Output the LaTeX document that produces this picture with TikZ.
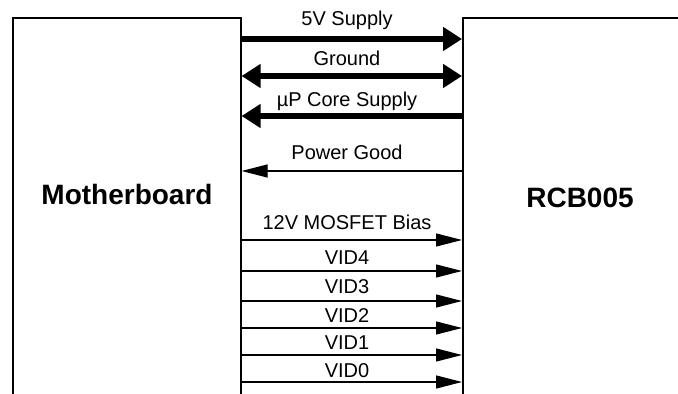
\documentclass[tikz,border=0pt]{standalone}
\usepackage{fontspec}
\setmainfont{Liberation Sans}
\usetikzlibrary{arrows.meta}
\tikzset{
  box/.style={draw, line width=0.8pt, anchor=north west, inner sep=0pt},
  ptip/.tip={Triangle[length=9.5pt,width=11.5pt]},
  stip/.tip={Triangle[length=13pt,width=6.5pt]},
  power/.style={line width=3pt},
  signal/.style={line width=0.6pt},
  lbl/.style={anchor=base, inner sep=0pt, font=\fontsize{10}{12}\selectfont},
  title/.style={font=\fontsize{14}{16}\selectfont\bfseries}
}
\begin{document}
\begin{tikzpicture}[x=0.5pt,y=-0.5pt]
	\useasboundingbox (0,0) rectangle (678,394);
	\clip (0,0) rectangle (678,394);
	% the two boards
	\node [box, minimum width=114pt, minimum height=210pt] (mb) at (12,17) {};
	\node [box, minimum width=150pt, minimum height=210pt] (rcb) at (462,17) {};
	\node [title] (mbname) at (127,194) {Motherboard};
	\node [title] (rcbname) at (580,198) {RCB005};
	% power lines
	\draw [power, -ptip] (mb.east |- 0,39) -- (rcb.west |- 0,39);
	\draw [power, ptip-ptip] (mb.east |- 0,76) -- (rcb.west |- 0,76);
	\draw [power, -ptip] (rcb.west |- 0,116) -- (mb.east |- 0,116);
	\draw [signal, -stip] (rcb.west |- 0,171) -- (mb.east |- 0,171);
	\node [lbl] (l5v) at (347,26) {5V Supply};
	\node [lbl] (lgnd) at (347,66) {Ground};
	\node [lbl] (lcore) at (347,107) {µP Core Supply};
	\node [lbl] (lpg) at (347,160) {Power Good};
	% bias and VID lines
	\draw [signal, -stip] (mb.east |- 0,240) -- (rcb.west |- 0,240);
	\draw [signal, -stip] (mb.east |- 0,271) -- (rcb.west |- 0,271);
	\draw [signal, -stip] (mb.east |- 0,301) -- (rcb.west |- 0,301);
	\draw [signal, -stip] (mb.east |- 0,328) -- (rcb.west |- 0,328);
	\draw [signal, -stip] (mb.east |- 0,355) -- (rcb.west |- 0,355);
	\draw [signal, -stip] (mb.east |- 0,382) -- (rcb.west |- 0,382);
	\node [lbl] (lbias) at (347,230) {12V MOSFET Bias};
	\node [lbl] (lvid4) at (347,265) {VID4};
	\node [lbl] (lvid3) at (347,294) {VID3};
	\node [lbl] (lvid2) at (347,322) {VID2};
	\node [lbl] (lvid1) at (347,350) {VID1};
	\node [lbl] (lvid0) at (347,377) {VID0};
\end{tikzpicture}
\end{document}
